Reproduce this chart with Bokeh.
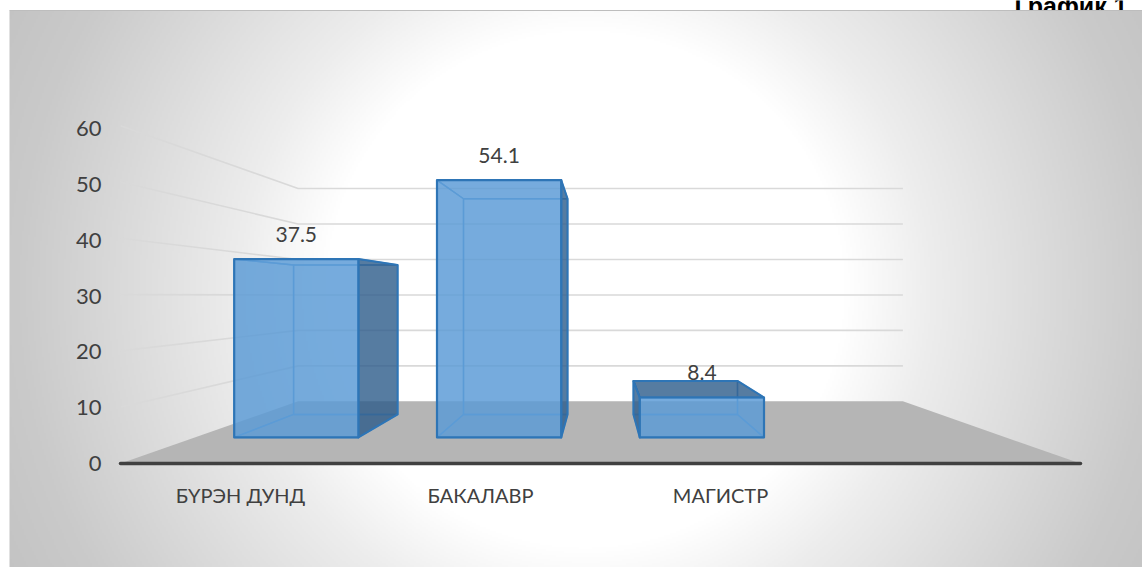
import numpy as np
from bokeh.plotting import figure
from bokeh.models import Range1d
from bokeh.core.properties import value
from bokeh.embed import file_html
from bokeh.resources import INLINE

categories = ["БҮРЭН ДУНД", "БАКАЛАВР", "МАГИСТР"]
values = [37.5, 54.1, 8.4]
value_labels = ["37.5", "54.1", "8.4"]
ticks = [0, 10, 20, 30, 40, 50, 60]
title_text = "График 1"

W, H = 1142, 567
FONT = "Lato"
TXT = "#404040"

# perspective model of the 3D chart, in pixels of the picture
VX, VY = 600.0, 295.0      # vanishing point
FRONT_Y = 463.0            # floor front edge
LEFT, SLOT = 120.0, 240.0  # floor left end, category slot width
UNIT = 5.63                # pixels per value unit at the front plane
S_BACK = 0.63              # scale of the back wall
S_BAR_F, S_BAR_B = 0.845, 0.708  # depth of bar front/back
BAR_W = 147.0


def px(X, s):
    return VX + s * (X - VX)


def py(v, s):
    return H - (VY - s * (VY - (FRONT_Y - UNIT * v)))


p = figure(width=W, height=H, x_range=Range1d(0, W), y_range=Range1d(0, H),
           output_backend="svg", toolbar_location=None,
           x_axis_location=None, y_axis_location=None, min_border=0,
           outline_line_color=None, background_fill_color="white",
           border_fill_color="white", margin=(0, 0, 0, 0))
p.grid.visible = False

# title is cut off by the chart area in the source
p.text([1127], [H - 5], text=[title_text], text_font=value("Liberation Sans"),
       text_font_style="bold", text_font_size="25px", text_color="black",
       text_align="right", text_baseline="alphabetic")

# background: radial grey gradient
bx0, by0, bx1, by1 = 9, 10, W, H
nx, ny = (bx1 - bx0) // 2, (by1 - by0) // 2
xx, yy = np.meshgrid(np.linspace(bx0, bx1, nx), np.linspace(by1, by0, ny))
r = np.hypot(xx - 585, yy - 289)
g = np.interp(r, [0, 260, 346, 567, 660], [255, 255, 237, 202, 194]).astype(np.uint32)
img = (255 << 24) | (g << 16) | (g << 8) | g
p.image_rgba(image=[img.astype(np.uint32)], x=bx0, y=H - by1, dw=bx1 - bx0, dh=by1 - by0)
p.segment([bx0], [H - by0], [W], [H - by0], line_color="#bdbdbd", line_width=1)

# walls' gridlines
for t in ticks[1:]:
    p.line([px(LEFT, 1), px(LEFT, S_BACK), px(LEFT + 4 * SLOT, S_BACK)],
           [py(t, 1), py(t, S_BACK), py(t, S_BACK)],
           line_color="#d9d9d9", line_width=1.6)

# floor
p.patch([px(LEFT, 1), px(LEFT, S_BACK), px(LEFT + 4 * SLOT, S_BACK), px(LEFT + 4 * SLOT, 1)],
        [py(0, 1), py(0, S_BACK), py(0, S_BACK), py(0, 1)],
        fill_color="#b5b5b5", line_color=None)
p.line([px(LEFT, 1), px(LEFT + 4 * SLOT, 1)], [py(0, 1), py(0, 1)],
       line_color="#404040", line_width=3.5, line_cap="round")

FILL = "#5B9BD5"
DARK = "#2b5a88"
EDGE = "#2E75B6"
INNER = "#5B9BD5"

for i, v in enumerate(values):
    c = LEFT + SLOT * (i + 0.5)
    xl, xr = c - BAR_W / 2, c + BAR_W / 2
    sf, sb = S_BAR_F, S_BAR_B

    def q(a, b, c_, d):
        return ([px(a[0], a[1]), px(b[0], b[1]), px(c_[0], c_[1]), px(d[0], d[1])],
                [py(a[2], a[1]), py(b[2], b[1]), py(c_[2], c_[1]), py(d[2], d[1])])

    back = q((xl, sb, 0), (xr, sb, 0), (xr, sb, v), (xl, sb, v))
    bottom = q((xl, sf, 0), (xr, sf, 0), (xr, sb, 0), (xl, sb, 0))
    left = q((xl, sf, 0), (xl, sb, 0), (xl, sb, v), (xl, sf, v))
    right = q((xr, sf, 0), (xr, sb, 0), (xr, sb, v), (xr, sf, v))
    top = q((xl, sf, v), (xr, sf, v), (xr, sb, v), (xl, sb, v))
    front = q((xl, sf, 0), (xr, sf, 0), (xr, sf, v), (xl, sf, v))

    outer = []
    inner = [back, bottom]
    (outer if xr < VX else inner).append(right)
    (outer if xl > VX else inner).append(left)
    (outer if v < 30 else inner).append(top)

    for f in inner:
        p.patch(f[0], f[1], fill_color=FILL, fill_alpha=0.10, line_color=INNER,
                line_width=1.4, line_alpha=0.9)
    for f in outer:
        p.patch(f[0], f[1], fill_color=DARK, fill_alpha=0.78, line_color=EDGE,
                line_width=2, line_join="round")
    p.patch(front[0], front[1], fill_color=FILL, fill_alpha=0.82, line_color=EDGE,
            line_width=2.2, line_join="round")

    p.text([px(c, sf)], [py(v, sf) + 25], text=[value_labels[i]], text_font=value(FONT),
           text_font_size="21px", text_color=TXT, text_align="center", text_baseline="middle")
    p.text([c], [H - 494], text=[categories[i]], text_font=value(FONT),
           text_font_size="20px", text_color=TXT, text_align="center", text_baseline="middle")

# value axis labels
tick_y = [H - (FRONT_Y - 5.58 * t) for t in ticks]
p.text([101] * len(ticks), tick_y, text=[str(t) for t in ticks], text_font=value(FONT),
       text_font_size="22px", text_color=TXT, text_align="right", text_baseline="middle")

open("out.html", "w").write(file_html(p, INLINE))
